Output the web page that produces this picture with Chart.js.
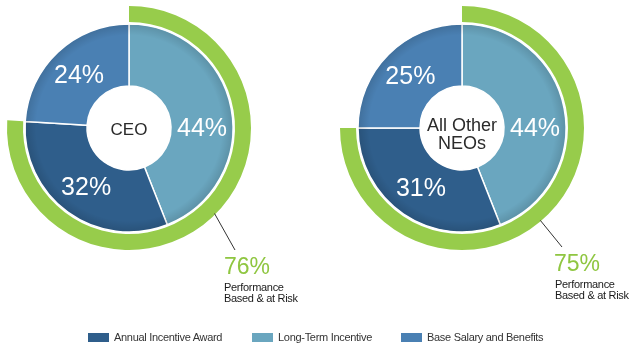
<!DOCTYPE html>
<html>
<head>
<meta charset="utf-8">
<script src="https://cdn.jsdelivr.net/npm/chart.js@4"></script>
<style>
  html, body { margin:0; padding:0; background:#fff; }
  body { width:633px; height:348px; position:relative; overflow:hidden; font-family:"Liberation Sans", Arial, sans-serif; }
  .cv { position:absolute; top:0; }
  .abs { position:absolute; white-space:nowrap; }
  .center { color:#2b2b2b; text-align:center; }
  .big { color:#8fc641; font-size:23px; line-height:23px; }
  .small { color:#1a1a1a; font-size:11px; line-height:11px; letter-spacing:-0.3px; }
  .leg { position:absolute; top:331px; font-size:11px; line-height:13px; color:#333; letter-spacing:-0.3px; }
  .leg span.box { display:inline-block; width:21px; height:9px; vertical-align:top; margin-top:2px; margin-right:5px; }
</style>
</head>
<body>
<canvas id="c1" class="cv" width="316" height="348" style="left:0;width:316px;height:348px"></canvas>
<canvas id="c2" class="cv" width="317" height="348" style="left:316px;width:317px;height:348px"></canvas>

<div class="abs center" style="left:89px;width:80px;top:121px;font-size:17px;line-height:17px">CEO</div>
<div class="abs center" style="left:412px;width:100px;top:116px;font-size:18px;line-height:18px">All Other<br>NEOs</div>

<div class="abs big" id="pct1" style="left:224px;top:255px"></div>
<div class="abs small" style="left:224px;top:282px">Performance<br>Based &amp; at Risk</div>
<div class="abs big" id="pct2" style="left:554px;top:252px"></div>
<div class="abs small" style="left:555px;top:279px">Performance<br>Based &amp; at Risk</div>

<div id="legend"></div>

<script>
// ---- data ----
const categories = ["Long-Term Incentive", "Annual Incentive Award", "Base Salary and Benefits"];
const ceoValues = [44, 32, 24];
const neoValues = [44, 31, 25];
const ceoAtRisk = 76;
const neoAtRisk = 75;
const legendOrder = ["Annual Incentive Award", "Long-Term Incentive", "Base Salary and Benefits"];

// ---- styles ----
const colors = {
  "Long-Term Incentive": "#6aa6bf",
  "Annual Incentive Award": "#2f5e8b",
  "Base Salary and Benefits": "#4a80b3"
};
const green = "#97cc4b";

document.getElementById('pct1').textContent = ceoAtRisk + '%';
document.getElementById('pct2').textContent = neoAtRisk + '%';

const labelPlugin = {
  id: 'pctLabels',
  afterDatasetsDraw(chart, args, opts) {
    const ctx = chart.ctx;
    const meta = chart.getDatasetMeta(2);
    const data = chart.data.datasets[2].data;
    ctx.save();
    // subtle outer-edge shading on the pie ring
    const a0 = meta.data[0].getProps(['x','y','innerRadius','outerRadius'], true);
    const grad = ctx.createRadialGradient(a0.x, a0.y, a0.innerRadius, a0.x, a0.y, a0.outerRadius);
    grad.addColorStop(0, 'rgba(0,0,0,0)');
    grad.addColorStop(0.82, 'rgba(0,0,0,0)');
    grad.addColorStop(1, 'rgba(0,0,0,0.13)');
    ctx.fillStyle = grad;
    ctx.beginPath();
    ctx.arc(a0.x, a0.y, a0.outerRadius - 0.8, 0, Math.PI * 2);
    ctx.arc(a0.x, a0.y, a0.innerRadius, 0, Math.PI * 2, true);
    ctx.fill();

    ctx.fillStyle = '#ffffff';
    ctx.font = '25px "Liberation Sans", Arial, sans-serif';
    ctx.textAlign = 'center';
    ctx.textBaseline = 'middle';
    meta.data.forEach((arc, i) => {
      const p = arc.getProps(['x','y','startAngle','endAngle','innerRadius','outerRadius'], true);
      let ang = (p.startAngle + p.endAngle) / 2;
      if (opts.angleOverride && opts.angleOverride[i] !== undefined) ang = opts.angleOverride[i] * Math.PI / 180;
      const r = (p.innerRadius + p.outerRadius) / 2 + (opts.rShift || 0);
      ctx.fillText(data[i] + '%', p.x + Math.cos(ang) * r, p.y + Math.sin(ang) * r + 1);
    });
    // leader line
    const g = chart.getDatasetMeta(0).data[0].getProps(['x','y','outerRadius'], true);
    const a = opts.leaderAngle * Math.PI / 180;
    ctx.strokeStyle = '#333';
    ctx.lineWidth = 1;
    ctx.beginPath();
    ctx.moveTo(g.x + Math.cos(a) * (g.outerRadius - 1), g.y + Math.sin(a) * (g.outerRadius - 1));
    ctx.lineTo(g.x + opts.leaderEnd[0], g.y + opts.leaderEnd[1]);
    ctx.stroke();
    ctx.restore();
  }
};

function makeChart(id, values, atRisk, pad, leaderAngle, leaderEnd) {
  new Chart(document.getElementById(id), {
    type: 'doughnut',
    data: {
      labels: categories,
      datasets: [
        { data: [atRisk, 100 - atRisk], backgroundColor: [green, 'rgba(0,0,0,0)'], borderWidth: 0, weight: 16 },
        { data: [100], backgroundColor: ['rgba(0,0,0,0)'], borderWidth: 0, weight: 2 },
        { data: values, backgroundColor: categories.map(c => colors[c]), borderColor: '#ffffff', borderWidth: 1.5, weight: 62 }
      ]
    },
    options: {
      responsive: false,
      animation: false,
      cutout: 42,
      layout: { padding: pad },
      plugins: {
        legend: { display: false },
        tooltip: { enabled: false },
        pctLabels: { angleOverride: { 0: 0 }, leaderAngle: leaderAngle, leaderEnd: leaderEnd }
      }
    },
    plugins: [labelPlugin]
  });
}

makeChart('c1', ceoValues, ceoAtRisk, { left: 7, right: 65, top: 6, bottom: 98 }, 45, [106, 122]);
makeChart('c2', neoValues, neoAtRisk, { left: 24, right: 49, top: 6, bottom: 98 }, 49.7, [100, 119]);

// legend
const legendX = [88, 252, 401];
const legEl = document.getElementById('legend');
legendOrder.forEach((name, i) => {
  const d = document.createElement('div');
  d.className = 'leg';
  d.style.left = legendX[i] + 'px';
  d.innerHTML = '<span class="box" style="background:' + colors[name] + '"></span>' + name;
  legEl.appendChild(d);
});
</script>
</body>
</html>
